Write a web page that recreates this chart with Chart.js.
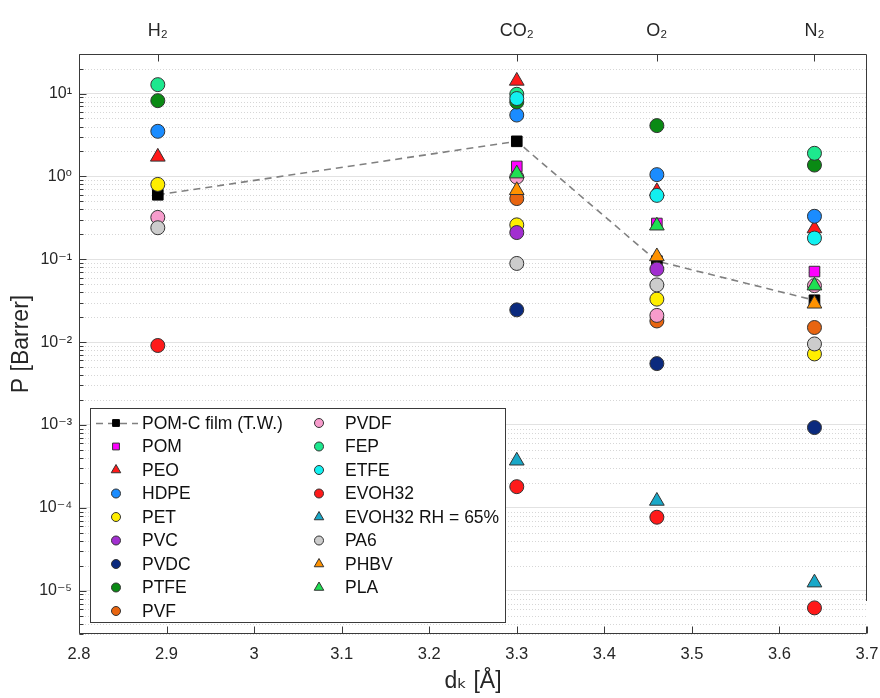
<!DOCTYPE html>
<html><head><meta charset="utf-8">
<script src="https://cdn.jsdelivr.net/npm/chart.js@4.4.0/dist/chart.umd.min.js"></script>
<style>html,body{margin:0;padding:0;background:#fff}#wrap{width:880px;height:698px;position:relative}</style>
</head><body><div id="wrap"><canvas id="c" width="880" height="698"></canvas></div>
<script>
// ---- data ----
const gases = ['H₂', 'CO₂', 'O₂', 'N₂'];
const kineticDiameter = [2.89, 3.30, 3.46, 3.64];
const xTickValues = [2.8, 2.9, 3.0, 3.1, 3.2, 3.3, 3.4, 3.5, 3.6, 3.7];
const xTickLabels = ['2.8', '2.9', '3', '3.1', '3.2', '3.3', '3.4', '3.5', '3.6', '3.7'];
const yTickValues = [1e-5, 1e-4, 1e-3, 1e-2, 1e-1, 1e0, 1e1];
const yTickLabels = ['10⁻⁵', '10⁻⁴', '10⁻³', '10⁻²', '10⁻¹', '10⁰', '10¹'];

const seriesNames = ['POM-C film (T.W.)', 'POM', 'PEO', 'HDPE', 'PET', 'PVC', 'PVDC', 'PTFE', 'PVF',
  'PVDF', 'FEP', 'ETFE', 'EVOH32', 'EVOH32 RH = 65%', 'PA6', 'PHBV', 'PLA'];
//                   H2       CO2      O2        N2
const pomcFilm   = [0.60,    2.65,    0.095,    0.032];
const pom        = [null,    1.32,    0.27,     0.071];
const peo        = [1.72,    14.2,    0.66,     0.235];
const hdpe       = [3.5,     5.5,     1.05,     0.33];
const pet        = [0.80,    0.26,    0.033,    0.0072];
const pvc        = [null,    0.21,    0.076,    null];
const pvdc       = [null,    0.0245,  0.0055,   0.00093];
const ptfe       = [8.2,     7.9,     4.1,      1.37];
const pvf        = [null,    0.54,    0.018,    0.015];
const pvdf       = [0.32,    0.98,    0.021,    0.048];
const fep        = [12.8,    9.8,     null,     1.9];
const etfe       = [null,    8.7,     0.59,     0.18];
const evoh32     = [0.0091,  0.00018, 0.000077, 0.0000062];
const evoh32RH65 = [null,    0.00037, 0.000121, 0.0000125];
const pa6        = [0.24,    0.089,   0.049,    0.0095];
const phbv       = [null,    0.68,    0.108,    0.029];
const pla        = [null,    1.08,    0.254,    0.048];
const seriesValues = [pomcFilm, pom, peo, hdpe, pet, pvc, pvdc, ptfe, pvf, pvdf, fep, etfe,
  evoh32, evoh32RH65, pa6, phbv, pla];

// ---- styles ----
const seriesStyles = [
  {shape: 'rect', color: '#000000'},
  {shape: 'rect', color: '#ff00ff'},
  {shape: 'triangle', color: '#ff1a1a'},
  {shape: 'circle', color: '#1a8cff'},
  {shape: 'circle', color: '#ffee00'},
  {shape: 'circle', color: '#a22fd0'},
  {shape: 'circle', color: '#0b2a7e'},
  {shape: 'circle', color: '#0a8a14'},
  {shape: 'circle', color: '#e86510'},
  {shape: 'circle', color: '#f79ccc'},
  {shape: 'circle', color: '#1de88e'},
  {shape: 'circle', color: '#12f0f0'},
  {shape: 'circle', color: '#ff1a1a'},
  {shape: 'triangle', color: '#19a8c8'},
  {shape: 'circle', color: '#cccccc'},
  {shape: 'triangle', color: '#ff9200'},
  {shape: 'triangle', color: '#1fe052'}
];
const markerRadius = {circle: 7, triangle: 8.5, rect: 7.5};
const legendRadius = {circle: 4.5, triangle: 5.5, rect: 4.8};

const FONT = "'Liberation Sans', Arial, 'DejaVu Sans', sans-serif";
const AXIS = '#3a3a3a';

const datasets = seriesNames.map((name, i) => {
  const st = seriesStyles[i];
  const pts = [];
  seriesValues[i].forEach((v, j) => { if (v !== null) pts.push({x: kineticDiameter[j], y: v}); });
  const isFilm = i === 0;
  return {
    label: name,
    data: pts,
    order: -i,
    showLine: isFilm,
    borderColor: isFilm ? '#808080' : '#333333',
    borderWidth: isFilm ? 1.6 : 1,
    borderDash: isFilm ? [7, 5] : [],
    backgroundColor: st.color,
    pointStyle: st.shape,
    pointRadius: markerRadius[st.shape],
    pointHoverRadius: markerRadius[st.shape],
    pointBackgroundColor: st.color,
    pointBorderColor: isFilm ? '#000000' : '#333333',
    pointBorderWidth: 1,
    clip: false
  };
});

const framePlugin = {
  id: 'frame',
  beforeDatasetsDraw(chart) {
    const {ctx, chartArea: a, scales: {y}} = chart;
    ctx.save();
    ctx.strokeStyle = '#d6d6d6';
    ctx.lineWidth = 1;
    ctx.setLineDash([1, 2]);
    for (let e = -6; e <= 1; e++) {
      for (let m = 2; m <= 9; m++) {
        const v = m * Math.pow(10, e);
        if (v < y.min || v > y.max) continue;
        const py = Math.round(y.getPixelForValue(v)) + 0.5;
        ctx.beginPath(); ctx.moveTo(a.left, py); ctx.lineTo(a.right, py); ctx.stroke();
      }
    }
    ctx.restore();
  },
  afterDatasetsDraw(chart) {
    const {ctx, chartArea: a, scales: {x, y}} = chart;
    const L = Math.round(a.left) + 0.5, R = Math.round(a.right) - 0.5;
    const T = Math.round(a.top) + 0.5, B = Math.round(a.bottom) - 0.5;
    ctx.save();
    ctx.strokeStyle = AXIS;
    ctx.lineWidth = 1;
    ctx.setLineDash([]);
    ctx.beginPath();
    ctx.moveTo(L, T); ctx.lineTo(R, T);
    ctx.moveTo(L, T); ctx.lineTo(L, B);
    ctx.moveTo(L, B); ctx.lineTo(R, B);
    ctx.moveTo(R, T); ctx.lineTo(R, Math.round(y.getPixelForValue(7.6e-6)));
    ctx.moveTo(R, B); ctx.lineTo(R, B - 7);
    xTickValues.forEach(v => {
      const px = Math.round(x.getPixelForValue(v)) + 0.5;
      ctx.moveTo(px, B); ctx.lineTo(px, B - 7);
    });
    kineticDiameter.forEach(v => {
      const px = Math.round(x.getPixelForValue(v)) + 0.5;
      ctx.moveTo(px, T); ctx.lineTo(px, T + 7);
    });
    for (let e = -6; e <= 1; e++) {
      for (let m = 1; m <= 9; m++) {
        const v = m * Math.pow(10, e);
        if (v < y.min || v > y.max) continue;
        const py = Math.round(y.getPixelForValue(v)) + 0.5;
        ctx.moveTo(L, py); ctx.lineTo(L + (m === 1 ? 7 : 4), py);
      }
    }
    ctx.stroke();

    // legend
    const bx = 90.5, by = 408.5, bw = 415, bh = 214;
    ctx.fillStyle = '#ffffff';
    ctx.fillRect(bx, by, bw, bh);
    ctx.strokeStyle = AXIS;
    ctx.strokeRect(bx, by, bw, bh);
    const rowY0 = 423, rowH = 23.5, perCol = 9;
    const colMarkX = [116, 319], colTextX = [142, 345];
    ctx.font = '17.5px ' + FONT;
    ctx.textBaseline = 'middle';
    ctx.textAlign = 'left';
    seriesNames.forEach((name, i) => {
      const col = Math.floor(i / perCol), row = i % perCol;
      const cy = rowY0 + row * rowH, mx = colMarkX[col];
      const st = seriesStyles[i];
      if (i === 0) {
        ctx.save();
        ctx.strokeStyle = '#808080'; ctx.lineWidth = 1.6; ctx.setLineDash([7, 5]);
        ctx.beginPath(); ctx.moveTo(mx - 20, cy + 0.5); ctx.lineTo(mx + 22, cy + 0.5); ctx.stroke();
        ctx.restore();
      }
      ctx.fillStyle = st.color;
      ctx.strokeStyle = i === 0 ? '#000000' : '#333333';
      ctx.lineWidth = 1;
      Chart.helpers.drawPoint(ctx, {pointStyle: st.shape, radius: legendRadius[st.shape], borderWidth: 1, rotation: 0}, mx, cy);
      ctx.fillStyle = '#111111';
      ctx.fillText(name, colTextX[col], cy + 1);
    });
    ctx.restore();
  }
};

const noEdgePadH = s => { s.paddingLeft = 0; s.paddingRight = 0; };
new Chart(document.getElementById('c'), {
  type: 'scatter',
  data: {datasets},
  options: {
    responsive: false,
    animation: false,
    devicePixelRatio: 1,
    layout: {padding: {left: 0, right: 13, top: 0, bottom: 0}},
    plugins: {legend: {display: false}, tooltip: {enabled: false}},
    scales: {
      x: {
        type: 'linear', position: 'bottom', min: 2.8, max: 3.7,
        afterBuildTicks: s => { s.ticks = xTickValues.map(v => ({value: v})); },
        afterFit: s => { s.height = 64; noEdgePadH(s); },
        ticks: {callback: (v, i) => xTickLabels[i], font: {family: FONT, size: 16.5}, color: '#262626', padding: 11, maxRotation: 0, autoSkip: false},
        grid: {drawOnChartArea: false, drawTicks: false},
        border: {display: false},
        title: {display: true, text: 'dₖ [Å]', font: {family: FONT, size: 23}, color: '#262626', padding: {top: 2, bottom: 3}}
      },
      x2: {
        type: 'linear', position: 'top', min: 2.8, max: 3.7,
        afterBuildTicks: s => { s.ticks = kineticDiameter.map(v => ({value: v})); },
        afterFit: s => { s.height = 54; noEdgePadH(s); },
        ticks: {callback: (v, i) => gases[i], font: {family: FONT, size: 18}, color: '#262626', padding: 12, maxRotation: 0, autoSkip: false},
        grid: {drawOnChartArea: false, drawTicks: false},
        border: {display: false}
      },
      y: {
        type: 'logarithmic', min: 3e-6, max: 30,
        afterBuildTicks: s => { s.ticks = yTickValues.map(v => ({value: v, major: true})); },
        afterFit: s => { s.width = 79; s.paddingTop = 0; s.paddingBottom = 0; },
        ticks: {callback: (v, i) => yTickLabels[i], font: {family: FONT, size: 16}, color: '#262626', padding: 7, autoSkip: false},
        grid: {color: '#e2e2e2', lineWidth: 1, drawTicks: false},
        border: {display: false},
        title: {display: true, text: 'P [Barrer]', font: {family: FONT, size: 23}, color: '#262626', padding: {top: 8, bottom: 4}}
      }
    }
  },
  plugins: [framePlugin]
});
</script></body></html>
